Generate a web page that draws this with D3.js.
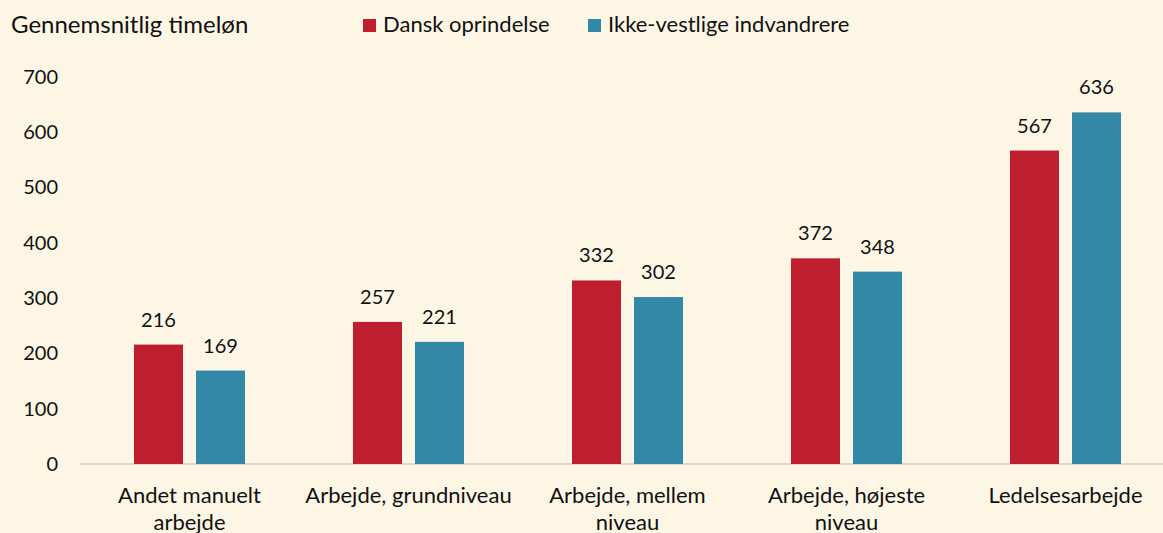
<!DOCTYPE html>
<html lang="da">
<head>
<meta charset="utf-8" />
<title>Gennemsnitlig timeløn</title>
<script src="https://d3js.org/d3.v7.min.js"></script>
<style>
  body { margin: 0; background: #fef6e5; }
  svg text { font-family: Lato, "Noto Sans", sans-serif; fill: #111; }
</style>
</head>
<body>
<script>
// data
var categories = ["Andet manuelt\narbejde", "Arbejde, grundniveau", "Arbejde, mellem\nniveau", "Arbejde, højeste\nniveau", "Ledelsesarbejde"];
var seriesNames = ["Dansk oprindelse", "Ikke-vestlige indvandrere"];
var dansk = [216, 257, 332, 372, 567];
var ikkeVestlige = [169, 221, 302, 348, 636];
var yTicks = [0, 100, 200, 300, 400, 500, 600, 700];
var colors = ["#be1e2d", "#3288a6"];

var width = 1163, height = 533;

var svg = d3.select("body").append("svg")
    .attr("width", width)
    .attr("height", height);

svg.append("rect").attr("width", width).attr("height", height).attr("fill", "#fef6e5");

var x0 = d3.scaleBand().domain(categories).range([80, 1175]).paddingInner(0.493).paddingOuter(0.2465);
var x1 = d3.scaleBand().domain(seriesNames).range([0, x0.bandwidth()]).paddingInner(0.21);
var y = d3.scaleLinear().domain([0, 700]).range([464, 77]);

var rows = categories.map(function(c, i) {
  return { cat: c, values: [dansk[i], ikkeVestlige[i]] };
});

// y axis labels, no line
var yAxis = svg.append("g")
    .attr("transform", "translate(62,0)")
    .call(d3.axisLeft(y).tickValues(yTicks).tickSize(0).tickPadding(4));
yAxis.select(".domain").remove();
yAxis.selectAll("text").style("font-size", "20px").style("font-family", "Lato, sans-serif").attr("fill", "#111");

// baseline
svg.append("line")
    .attr("x1", 80).attr("x2", width)
    .attr("y1", y(0)).attr("y2", y(0))
    .attr("stroke", "#d9d9d9").attr("stroke-width", 2);

var groups = svg.selectAll(".grp").data(rows).enter().append("g")
    .attr("class", "grp")
    .attr("transform", function(d) { return "translate(" + x0(d.cat) + ",0)"; });

groups.selectAll("rect").data(function(d) { return d.values; }).enter().append("rect")
    .attr("x", function(d, i) { return x1(seriesNames[i]); })
    .attr("y", function(d) { return y(d); })
    .attr("width", x1.bandwidth())
    .attr("height", function(d) { return y(0) - y(d); })
    .attr("fill", function(d, i) { return colors[i]; });

groups.selectAll(".val").data(function(d) { return d.values; }).enter().append("text")
    .attr("class", "val")
    .attr("x", function(d, i) { return x1(seriesNames[i]) + x1.bandwidth() / 2; })
    .attr("y", function(d) { return y(d) - 18; })
    .attr("text-anchor", "middle")
    .style("font-size", "20px")
    .text(function(d) { return d; });

// category labels
var catLabels = svg.selectAll(".cat").data(categories).enter().append("text")
    .attr("class", "cat")
    .attr("text-anchor", "middle")
    .attr("x", function(d) { return x0(d) + x0.bandwidth() / 2; })
    .attr("y", 503)
    .style("font-size", "22px");
catLabels.each(function(d) {
  var t = d3.select(this);
  d.split("\n").forEach(function(line, i) {
    t.append("tspan")
      .attr("x", x0(d) + x0.bandwidth() / 2)
      .attr("dy", i === 0 ? 0 : 27)
      .text(line);
  });
});

// title
svg.append("text").attr("x", 11).attr("y", 33)
    .style("font-size", "24px")
    .text("Gennemsnitlig timeløn");

// legend
var legendX = [363, 588];
var legend = svg.selectAll(".leg").data(seriesNames).enter().append("g")
    .attr("class", "leg")
    .attr("transform", function(d, i) { return "translate(" + legendX[i] + ",0)"; });
legend.append("rect").attr("x", 0).attr("y", 19).attr("width", 13).attr("height", 13)
    .attr("fill", function(d, i) { return colors[i]; });
legend.append("text").attr("x", 20).attr("y", 32)
    .style("font-size", "22px")
    .text(function(d) { return d; });
</script>
</body>
</html>
